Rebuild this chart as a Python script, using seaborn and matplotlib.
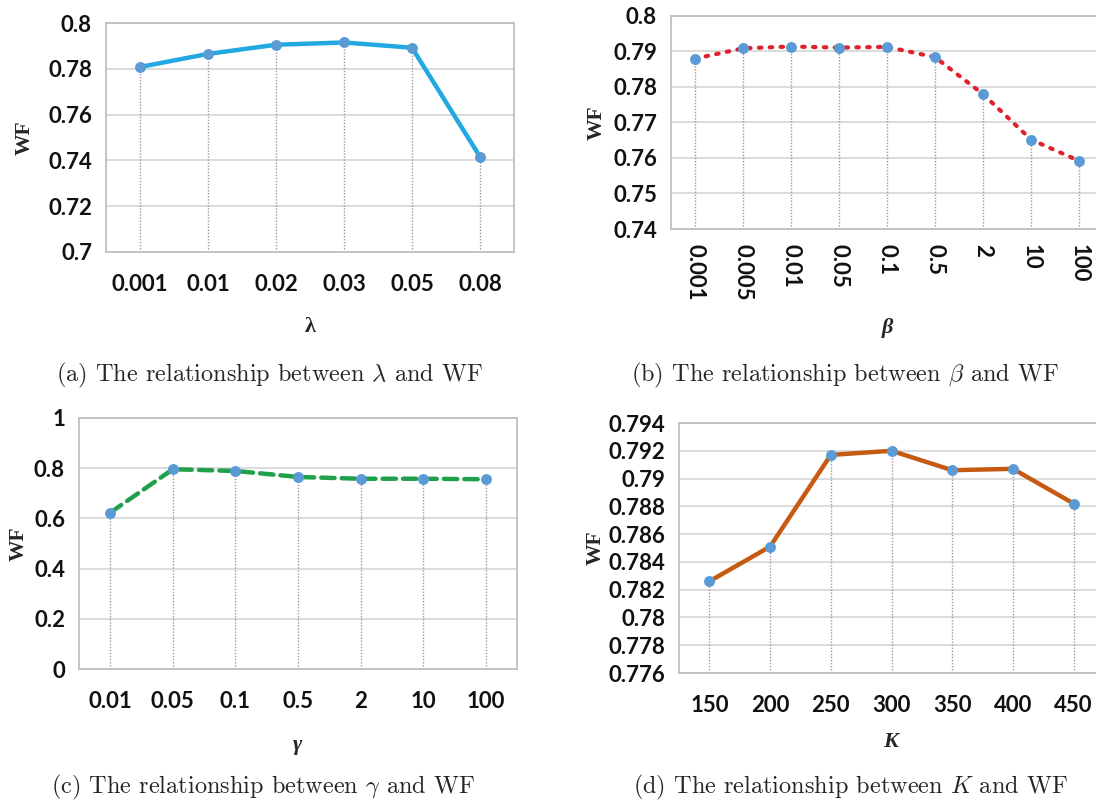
import numpy as np
import pandas as pd
import matplotlib
matplotlib.use("Agg")
import matplotlib.pyplot as plt
import seaborn as sns

# ---- data ----
lam_labels = ["0.001", "0.01", "0.02", "0.03", "0.05", "0.08"]
lam_wf = [0.7808, 0.7865, 0.7905, 0.7915, 0.7892, 0.7416]

beta_labels = ["0.001", "0.005", "0.01", "0.05", "0.1", "0.5", "2", "10", "100"]
beta_wf = [0.7880, 0.7909, 0.7914, 0.7911, 0.7913, 0.7884, 0.7780, 0.7652, 0.7592]

gamma_labels = ["0.01", "0.05", "0.1", "0.5", "2", "10", "100"]
gamma_wf = [0.623, 0.796, 0.789, 0.765, 0.758, 0.758, 0.756]

k_labels = ["150", "200", "250", "300", "350", "400", "450"]
k_wf = [0.7826, 0.7851, 0.7917, 0.7920, 0.7906, 0.7907, 0.7882]

sns.set_theme(style="white")
plt.rcParams["mathtext.fontset"] = "cm"

W, H = 1096, 800
fig = plt.figure(figsize=(W / 100, H / 100), dpi=100)
fig.patch.set_facecolor("white")

TICK_FONT = dict(family="Lato", weight="bold", size=16, color="#111111")
MARK_COL = "#5b9bd5"


def px_axes(l, t, r, b):
    return fig.add_axes([l / W, (H - b) / H, (r - l) / W, (b - t) / H])


def fmt_plain(v):
    return ("%.3f" % v).rstrip("0").rstrip(".")


def panel(box, labels, values, ylim, yticks, color, ls, lw, xlabel,
          xstyle, caption, cap_xy, wf_x, xl_xy, rot=0, xpad=16):
    ax = px_axes(*box)
    df = pd.DataFrame({"x": np.arange(len(labels)), "wf": values})
    sns.lineplot(data=df, x="x", y="wf", ax=ax, color=color, linestyle=ls,
                 linewidth=lw, dash_capstyle="round", solid_capstyle="round",
                 zorder=3)
    sns.scatterplot(data=df, x="x", y="wf", ax=ax, color=MARK_COL, s=62,
                    edgecolor=MARK_COL, linewidth=0, zorder=4)
    # dotted drop lines from each point to the x axis
    ax.vlines(df["x"], ylim[0], df["wf"], colors="#9a9a9a",
              linestyles=(0, (1, 1.2)), linewidth=1.0, zorder=2)
    ax.set_xlim(-0.5, len(labels) - 0.5)
    ax.set_ylim(*ylim)
    ax.set_xticks(df["x"])
    ax.set_xticklabels(labels, rotation=rot, **TICK_FONT)
    ax.set_yticks(yticks)
    ax.set_yticklabels([fmt_plain(v) for v in yticks], **TICK_FONT)
    ax.tick_params(axis="both", length=0)
    ax.tick_params(axis="x", pad=xpad)
    ax.tick_params(axis="y", pad=10)
    ax.yaxis.grid(True, color="#d9d9d9", linewidth=1.3)
    ax.xaxis.grid(False)
    ax.set_axisbelow(True)
    for s in ax.spines.values():
        s.set_color("#c0c0c0")
        s.set_linewidth(1.3)
    ax.set_xlabel("")
    ax.set_ylabel("")
    fig.text(wf_x / W, 1 - ((box[1] + box[3]) / 2) / H, "WF", rotation=90,
             ha="center", va="center", family="Liberation Serif",
             weight="bold", size=15.5)
    fig.text(xl_xy[0] / W, 1 - xl_xy[1] / H, xlabel, ha="center",
             va="center", family="Liberation Serif", weight="bold",
             style=xstyle, size=16)
    fig.text(cap_xy[0] / W, 1 - cap_xy[1] / H, caption, ha="center",
             va="center", family="cmr10", size=17.5)
    return ax


panel((106, 23, 514, 252), lam_labels, lam_wf, (0.7, 0.8),
      [0.7, 0.72, 0.74, 0.76, 0.78, 0.8], "#22a9e1", "-", 3.2,
      "λ", "normal",
      r"(a) The relationship between $\lambda$ and WF", (270, 375), 25,
      (310, 327))

panel((671, 16, 1103, 229), beta_labels, beta_wf, (0.74, 0.8),
      [0.74, 0.75, 0.76, 0.77, 0.78, 0.79, 0.8], "#e0202b",
      (0, (0.6, 2.0)), 3.0, "β", "italic",
      r"(b) The relationship between $\beta$ and WF", (845, 375), 597,
      (887, 328), rot=-90, xpad=11)

panel((79, 418, 517, 669), gamma_labels, gamma_wf, (0, 1),
      [0, 0.2, 0.4, 0.6, 0.8, 1.0], "#21a04c", (0, (3, 1.6)), 3.2,
      "γ", "italic",
      r"(c) The relationship between $\gamma$ and WF", (263, 787), 19,
      (298, 745))

panel((679, 423, 1104, 673), k_labels, k_wf, (0.776, 0.794),
      list(np.round(np.arange(0.776, 0.7945, 0.002), 3)),
      "#c55a11", "-", 3.2, "K", "italic",
      r"(d) The relationship between $K$ and WF", (850, 787), 596,
      (891, 742))

fig.savefig("out.png", dpi=100)
